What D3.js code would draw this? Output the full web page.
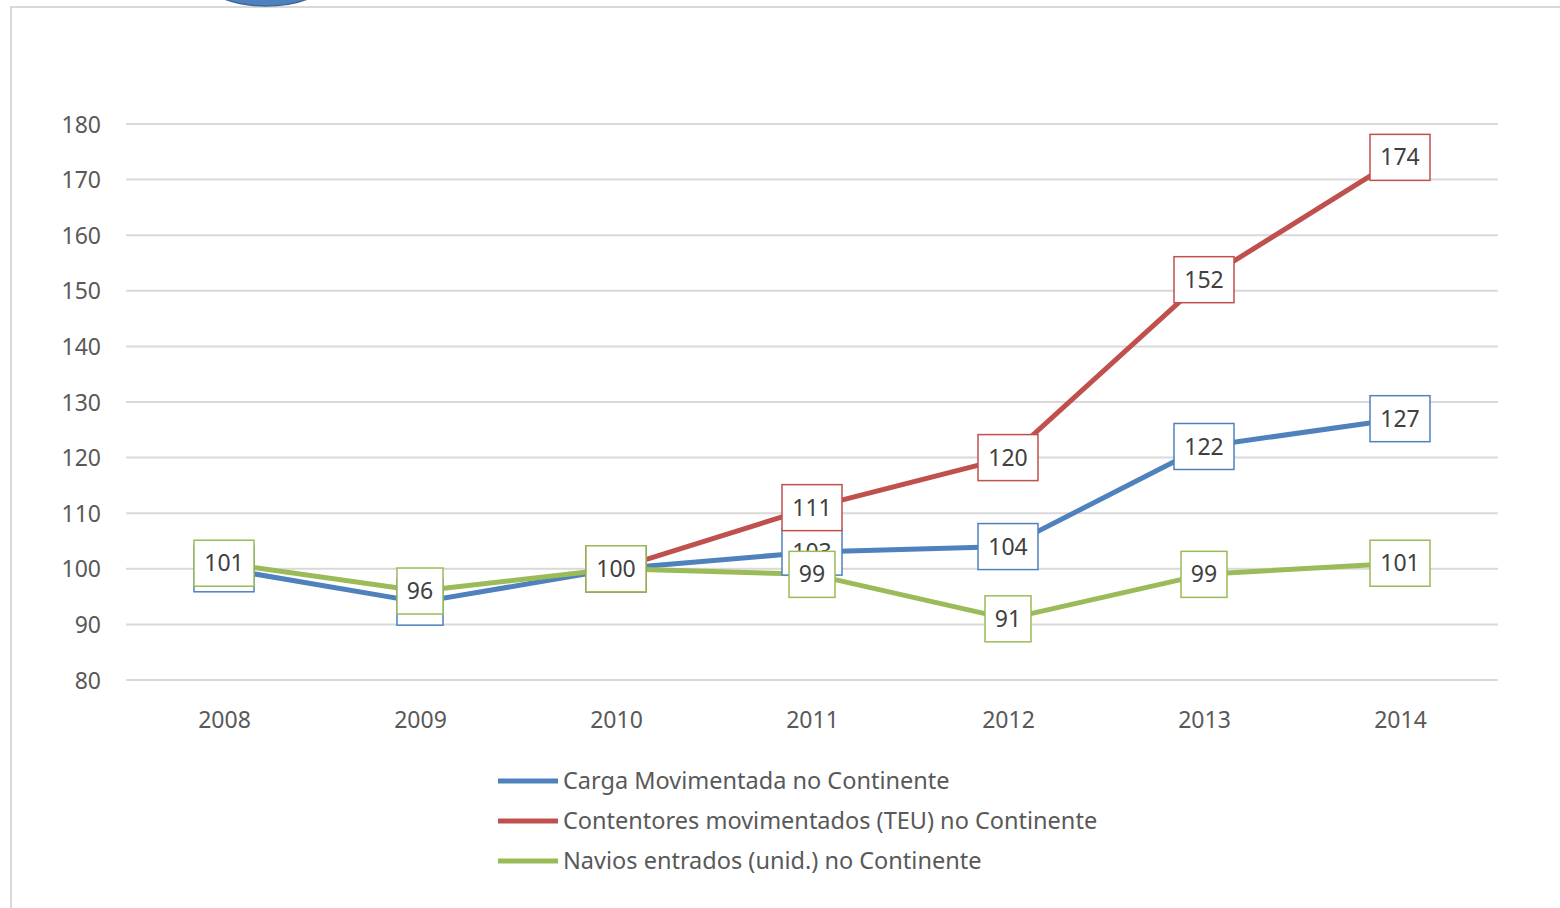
<!DOCTYPE html>
<html>
<head>
<meta charset="utf-8">
<script src="https://cdn.jsdelivr.net/npm/d3@7"></script>
<style>
  body { margin: 0; background: #fff; }
  text { font-family: "Noto Sans", "Open Sans", sans-serif; }
</style>
</head>
<body>
<svg id="chart"></svg>
<script>
// Data
const years = ['2008', '2009', '2010', '2011', '2012', '2013', '2014'];
const carga = [100, 94, 100, 103, 104, 122, 127];
const contentores = [null, null, 100, 111, 120, 152, 174];
const navios = [101, 96, 100, 99, 91, 99, 101];
const yTicks = [80, 90, 100, 110, 120, 130, 140, 150, 160, 170, 180];

const series = [
  { name: 'Carga Movimentada no Continente', values: carga, color: '#4f81bd' },
  { name: 'Contentores movimentados (TEU) no Continente', values: contentores, color: '#c0504d' },
  { name: 'Navios entrados (unid.) no Continente', values: navios, color: '#9bbb59' },
];

const width = 1560;
const height = 908;

const svg = d3.select('#chart')
  .attr('width', width)
  .attr('height', height);

svg.append('rect').attr('width', width).attr('height', height).attr('fill', '#fff');

// Frame of the chart area
svg.append('path')
  .attr('d', `M11,${height} V7 H${width}`)
  .attr('fill', 'none')
  .attr('stroke', '#d9d9d9')
  .attr('stroke-width', 2);

// Blue shape cut by the top edge
svg.append('ellipse')
  .attr('cx', 266).attr('cy', -30)
  .attr('rx', 70).attr('ry', 36)
  .attr('fill', '#4f81bd')
  .attr('stroke', '#3a679c')
  .attr('stroke-width', 1.5);

// Scales
const x = d3.scalePoint().domain(years).range([224, 1400]);
const y = d3.scaleLinear().domain([80, 180]).range([680, 124]);

// Gridlines
svg.append('g')
  .selectAll('line')
  .data(yTicks)
  .enter()
  .append('line')
  .attr('x1', 126).attr('x2', 1498)
  .attr('y1', d => y(d)).attr('y2', d => y(d))
  .attr('stroke', '#d9d9d9')
  .attr('stroke-width', 2);

// Y axis labels
const yAxis = svg.append('g')
  .attr('transform', 'translate(101,0)')
  .call(d3.axisLeft(y).tickValues(yTicks).tickSize(0).tickPadding(0));
yAxis.select('.domain').remove();
yAxis.selectAll('text')
  .attr('fill', '#595959')
  .style('font-size', '23px')
  .attr('dy', '0.35em');

// X axis labels
const xAxis = svg.append('g')
  .attr('transform', 'translate(0,712)')
  .call(d3.axisBottom(x).tickSize(0).tickPadding(0));
xAxis.select('.domain').remove();
xAxis.selectAll('text')
  .attr('fill', '#595959')
  .style('font-size', '23px')
  .attr('dy', '0.7em');

// Lines
const line = d3.line()
  .defined(d => d.v != null)
  .x(d => x(d.year))
  .y(d => y(d.v));

series.forEach(s => {
  s.points = years.map((year, i) => ({ year, v: s.values[i] }));
  svg.append('path')
    .datum(s.points)
    .attr('fill', 'none')
    .attr('stroke', s.color)
    .attr('stroke-width', 5)
    .attr('stroke-linejoin', 'round')
    .attr('d', line);
});

// Data labels (boxes)
series.forEach(s => {
  const g = svg.append('g')
    .selectAll('g')
    .data(s.points.filter(d => d.v != null))
    .enter()
    .append('g')
    .attr('transform', d => `translate(${x(d.year)},${y(d.v)})`);

  g.append('rect')
    .attr('x', d => String(d.v).length > 2 ? -30 : -23)
    .attr('width', d => String(d.v).length > 2 ? 60 : 46)
    .attr('y', -23)
    .attr('height', 46)
    .attr('fill', '#fff')
    .attr('stroke', s.color)
    .attr('stroke-width', 1.5);

  g.append('text')
    .attr('text-anchor', 'middle')
    .attr('dy', '0.35em')
    .attr('fill', '#404040')
    .style('font-size', '23px')
    .text(d => d.v);
});

// Legend
const legend = svg.append('g')
  .selectAll('g')
  .data(series)
  .enter()
  .append('g')
  .attr('transform', (d, i) => `translate(498,${781 + i * 40})`);

legend.append('line')
  .attr('x1', 0).attr('x2', 60)
  .attr('stroke', d => d.color)
  .attr('stroke-width', 5);

legend.append('text')
  .attr('x', 65)
  .attr('dy', '0.35em')
  .attr('fill', '#595959')
  .style('font-size', '23.5px')
  .text(d => d.name);
</script>
</body>
</html>
